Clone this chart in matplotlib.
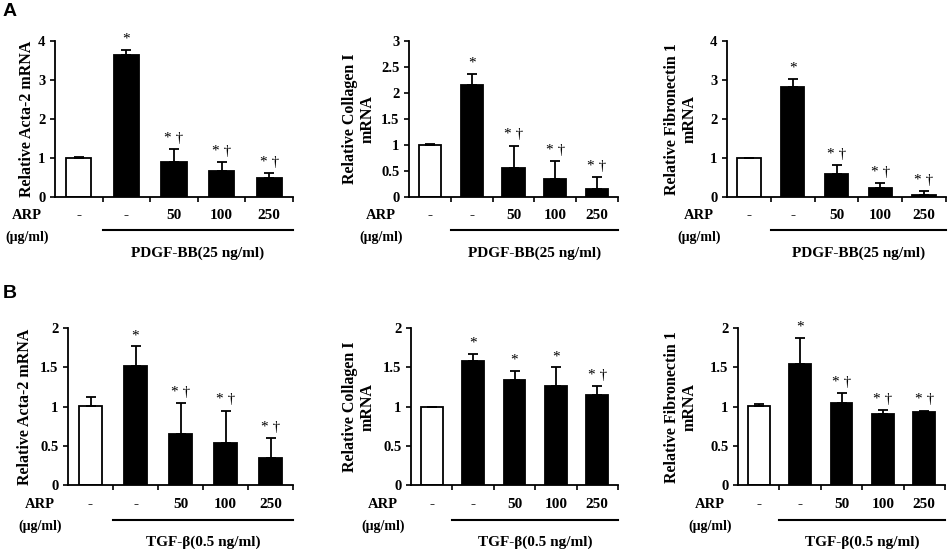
import matplotlib.pyplot as plt
import matplotlib.transforms as mtransforms
import numpy as np

plt.rcParams['font.family'] = ['Liberation Serif', 'DejaVu Serif']

# ---- data ----
arp_labels = ['-', '-', '50', '100', '250']

a_acta = [1.00, 3.63, 0.91, 0.68, 0.49]
a_acta_err = [0.03, 0.13, 0.32, 0.22, 0.12]
a_col = [1.01, 2.15, 0.57, 0.35, 0.15]
a_col_err = [0.02, 0.21, 0.42, 0.35, 0.24]
a_fn = [1.00, 2.81, 0.59, 0.23, 0.06]
a_fn_err = [0.01, 0.22, 0.23, 0.13, 0.10]

b_acta = [1.01, 1.52, 0.65, 0.54, 0.34]
b_acta_err = [0.11, 0.25, 0.40, 0.41, 0.26]
b_col = [1.00, 1.58, 1.34, 1.26, 1.15]
b_col_err = [0.00, 0.09, 0.12, 0.24, 0.11]
b_fn = [1.01, 1.55, 1.05, 0.91, 0.93]
b_fn_err = [0.02, 0.33, 0.12, 0.05, 0.02]

a_sig = ['', '*', '* \u2020', '* \u2020', '* \u2020']
b_sig_acta = ['', '*', '* \u2020', '* \u2020', '* \u2020']
b_sig_col = ['', '*', '*', '*', '* \u2020']
b_sig_fn = ['', '*', '* \u2020', '* \u2020', '* \u2020']

W, H = 948, 549
fig = plt.figure(figsize=(W / 100, H / 100), dpi=100)


def px_axes(left, right, top, bottom):
    return fig.add_axes([left / W, 1 - bottom / H, (right - left) / W, (bottom - top) / H])


def panel(rect, vals, errs, sig, ymax, ystep, ylabel, ylab_x, treat, row_dy=0):
    left, right, top, bottom = rect
    ax = px_axes(left, right, top, bottom)
    wpx = right - left
    hpx = bottom - top
    x = np.arange(len(vals))
    colors = ['white'] + ['black'] * (len(vals) - 1)
    ax.bar(x, vals, width=0.53, color=colors, edgecolor='black', linewidth=1.3, zorder=2)
    ax.errorbar(x, vals, yerr=[np.zeros(len(vals)), errs], fmt='none', ecolor='black',
                elinewidth=1.3, capsize=3.5, capthick=1.3, zorder=3)
    for xi, v, e, s in zip(x, vals, errs, sig):
        if s:
            ax.annotate(s, (xi, v + e), xytext=(0, 3), textcoords='offset points',
                        ha='center', va='bottom', fontsize=11)
    ax.set_xlim(-0.5, 4.5)
    ax.set_ylim(0, ymax)
    ticks = np.arange(0, ymax + 1e-9, ystep)
    ax.set_yticks(ticks)
    ax.set_yticklabels(['%g' % t for t in ticks], fontsize=10.5, fontweight='bold')
    ax.set_xticks([0.5, 1.5, 2.5, 3.5, 4.5])
    ax.set_xticklabels([])
    ax.tick_params(direction='out', length=3.5, width=1.2)
    for sp in ['top', 'right']:
        ax.spines[sp].set_visible(False)
    for sp in ['left', 'bottom']:
        ax.spines[sp].set_linewidth(1.3)
    ax.set_ylabel(ylabel, fontsize=11.5, fontweight='bold', linespacing=1.15, va='center')
    ax.yaxis.set_label_coords((ylab_x - left) / wpx, 0.5)

    trans = mtransforms.blended_transform_factory(ax.transData, ax.transAxes)
    for xi, lab in zip(x, arp_labels):
        ax.text(xi, -(18 + row_dy) / hpx, lab, transform=trans, ha='center', va='center',
                fontsize=11, fontweight='bold')
    ax.text(-28 / wpx, -(18 + row_dy) / hpx, 'ARP', transform=ax.transAxes, ha='center',
            va='center', fontsize=10.5, fontweight='bold')
    ax.text(-28 / wpx, -(40 + row_dy) / hpx, '(\u03bcg/ml)', transform=ax.transAxes,
            ha='center', va='center', fontsize=10, fontweight='bold')
    ax.plot([0.5, 4.5], [-(33 + row_dy) / hpx] * 2, transform=trans, color='black',
            linewidth=1.5, clip_on=False)
    ax.text(2.5, -(56 + row_dy) / hpx, treat, transform=trans, ha='center', va='center',
            fontsize=11, fontweight='bold')
    return ax


pdgf = 'PDGF-BB(25 ng/ml)'
tgf = 'TGF-\u03b2(0.5 ng/ml)'

panel((55, 293, 40.7, 197.3), a_acta, a_acta_err, a_sig, 4, 1,
      'Relative Acta-2 mRNA', 27, pdgf)
panel((409, 618, 40.7, 197.3), a_col, a_col_err, a_sig, 3, 0.5,
      'Relative Collagen I\nmRNA', 359, pdgf)
panel((727, 946, 40.7, 197.3), a_fn, a_fn_err, a_sig, 4, 1,
      'Relative Fibronectin 1\nmRNA', 681, pdgf)

panel((68, 293, 328.3, 485), b_acta, b_acta_err, b_sig_acta, 2, 0.5,
      'Relative Acta-2 mRNA', 25, tgf, row_dy=1.5)
panel((411, 618, 328.3, 485), b_col, b_col_err, b_sig_col, 2, 0.5,
      'Relative Collagen I\nmRNA', 359, tgf, row_dy=1.5)
panel((738, 945, 328.3, 485), b_fn, b_fn_err, b_sig_fn, 2, 0.5,
      'Relative Fibronectin 1\nmRNA', 681, tgf, row_dy=1.5)

fig.text(3 / W, 1 - 12 / H, 'A', fontsize=14, fontweight='bold', family='Liberation Sans',
         va='center', ha='left')
fig.text(3 / W, 1 - 293 / H, 'B', fontsize=14, fontweight='bold', family='Liberation Sans',
         va='center', ha='left')

fig.savefig('out.png', dpi=100)
